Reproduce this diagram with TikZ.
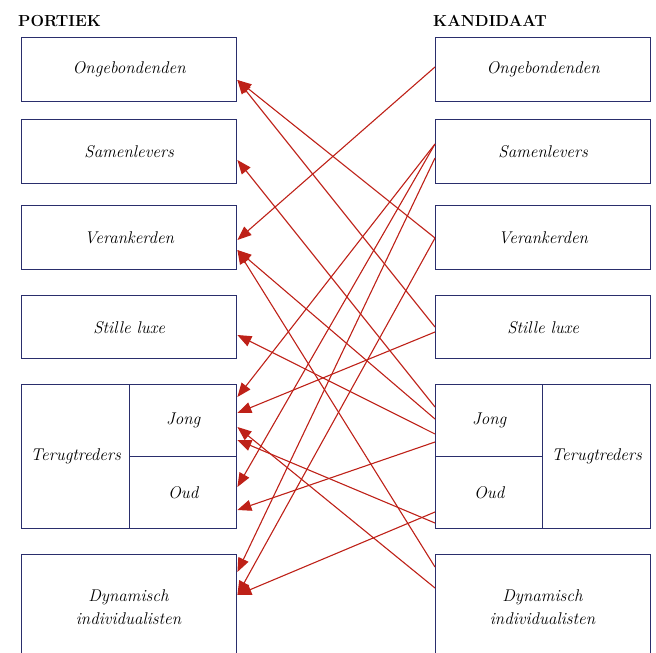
\documentclass[tikz,border=0pt]{standalone}
\usepackage{tikz}
\usetikzlibrary{calc,arrows.meta}
\definecolor{kaderblauw}{HTML}{2A2E6C}
\definecolor{pijlrood}{HTML}{BE2118}

\begin{document}
\begin{tikzpicture}[x=1pt,y=-1pt,
    kader/.style={draw=kaderblauw,line width=1.4pt,rectangle,anchor=north west,inner sep=0pt,
      minimum width=215pt,minimum height=64pt,font=\fontsize{17}{20}\selectfont\itshape,align=center},
    halfkader/.style={kader,minimum width=107pt,minimum height=72pt},
    tekst/.style={align=center,font=\fontsize{17}{23}\selectfont\itshape},
    kop/.style={anchor=base west,inner sep=0pt,font=\fontsize{16}{19}\selectfont\bfseries},
    pijl/.style={pijlrood,line width=1.1pt,-{Triangle[length=14pt,width=11pt]}}]
				\useasboundingbox (0,0) rectangle (656,653);
				% koppen
				\node[kop] (tPortiek) at (18,26) {PORTIEK};
				\node[kop] (tKandidaat) at (433,26) {KANDIDAAT};
				% linker kolom: portiek
				\node[kader] (pOng) at (21,37) {Ongebondenden};
				\node[kader] (pSam) at (21,119) {Samenlevers};
				\node[kader] (pVer) at (21,205) {Verankerden};
				\node[kader,minimum height=63pt] (pSti) at (21,295) {Stille luxe};
				\node[kader,minimum width=108pt,minimum height=144pt] (pTer) at (21,384) {Terugtreders};
				\node[halfkader] (pJong) at (129,384) {Jong};
				\node[halfkader] (pOud) at (129,456) {Oud};
				\node[kader,minimum height=120pt] (pDyn) at (21,554) {};
				\node[tekst] (pDynTxt) at (128.5,607) {Dynamisch\\individualisten};
				% rechter kolom: kandidaat
				\node[kader] (kOng) at (435,37) {Ongebondenden};
				\node[kader] (kSam) at (435,119) {Samenlevers};
				\node[kader] (kVer) at (435,205) {Verankerden};
				\node[kader,minimum height=63pt] (kSti) at (435,295) {Stille luxe};
				\node[halfkader] (kJong) at (435,384) {Jong};
				\node[halfkader] (kOud) at (435,456) {Oud};
				\node[kader,minimum width=108pt,minimum height=144pt] (kTer) at (542,384) {Terugtreders};
				\node[kader,minimum height=120pt] (kDyn) at (435,554) {};
				\node[tekst] (kDynTxt) at (542.5,607) {Dynamisch\\individualisten};
				% verhuisstromen van kandidaat naar portiek
				\draw[pijl] ([yshift=-30pt]kOng.north west) -- ([yshift=-35pt]pVer.north east);
				\draw[pijl] ([yshift=-25pt]kSam.north west) -- ([yshift=-13pt]pJong.north east);
				\draw[pijl] ([yshift=-25pt]kSam.north west) -- ([yshift=-31pt]pOud.north east);
				\draw[pijl] ([yshift=-39pt]kSam.north west) -- ([yshift=-18pt]pDyn.north east);
				\draw[pijl] ([yshift=-33pt]kVer.north west) -- ([yshift=-43pt]pOng.north east);
				\draw[pijl] ([yshift=-33pt]kVer.north west) -- ([yshift=-41pt]pDyn.north east);
				\draw[pijl] ([yshift=-32pt]kSti.north west) -- ([yshift=-43pt]pOng.north east);
				\draw[pijl] ([yshift=-37pt]kSti.north west) -- ([yshift=-29pt]pJong.north east);
				% vanuit de terugtreders en dynamisch individualisten
				\draw[pijl] ([yshift=-23pt]kJong.north west) -- ([yshift=-41pt]pSam.north east);
				\draw[pijl] ([yshift=-35pt]kJong.north west) -- ([yshift=-45pt]pVer.north east);
				\draw[pijl] ([yshift=-50pt]kJong.north west) -- ([yshift=-40pt]pSti.north east);
				\draw[pijl] ([yshift=-58pt]kJong.north west) -- ([yshift=-54pt]pOud.north east);
				\draw[pijl] ([yshift=-56pt]kOud.north west) -- ([yshift=-41pt]pDyn.north east);
				\draw[pijl] ([yshift=-67pt]kOud.north west) -- ([yshift=-56pt]pJong.north east);
				\draw[pijl] ([yshift=-13pt]kDyn.north west) -- ([yshift=-45pt]pVer.north east);
				\draw[pijl] ([yshift=-34pt]kDyn.north west) -- ([yshift=-43pt]pJong.north east);
			\end{tikzpicture}
\end{document}
